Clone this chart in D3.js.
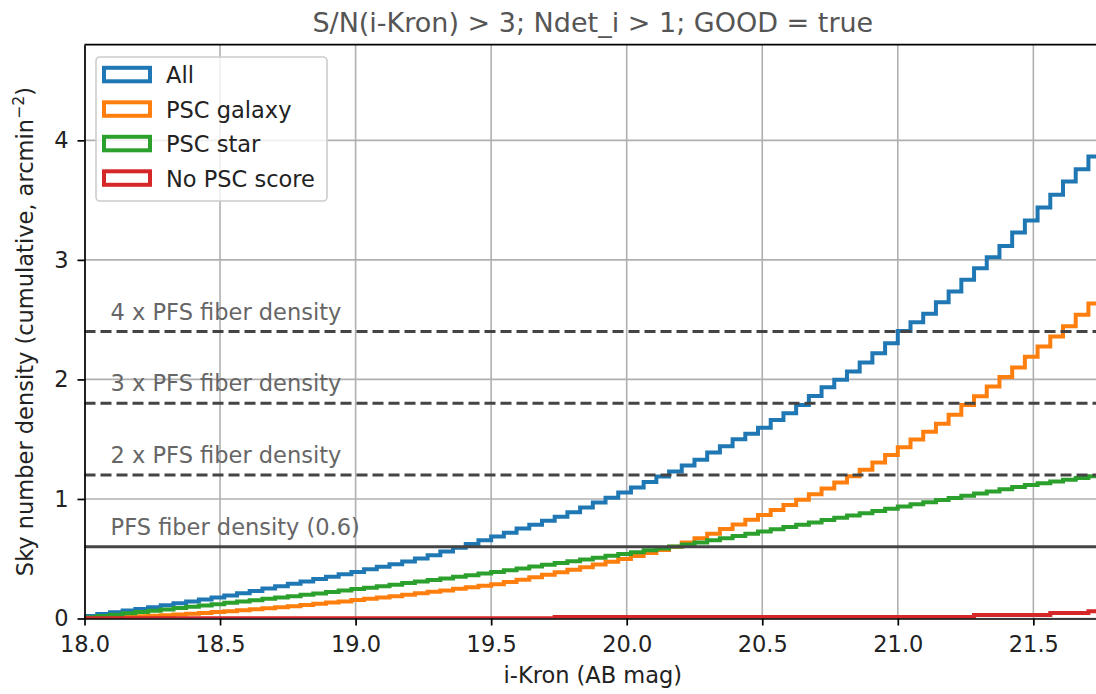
<!DOCTYPE html>
<html>
<head>
<meta charset="utf-8">
<script src="https://cdn.jsdelivr.net/npm/d3@7"></script>
<style>
  html, body { margin: 0; padding: 0; background: #fff; }
  svg { display: block; font-family: "DejaVu Sans", sans-serif; }
</style>
</head>
<body>
<svg id="chart" width="1096" height="694"></svg>
<script>
// ---- Data ----
const title = "S/N(i-Kron) > 3; Ndet_i > 1; GOOD = true";
const xLabel = "i-Kron (AB mag)";
const xTicks = [18.0, 18.5, 19.0, 19.5, 20.0, 20.5, 21.0, 21.5];
const yTicks = [0, 1, 2, 3, 4];
const binLo = 18.0, binHi = 21.75, nBins = 80;

const seriesNames = ["All", "PSC galaxy", "PSC star", "No PSC score"];
const seriesColors = ["#1f77b4", "#ff7f0e", "#2ca02c", "#d62728"];

const allVals = [
  0.020,0.037,0.052,0.066,0.080,0.095,0.110,0.127,0.143,0.159,
  0.175,0.192,0.211,0.230,0.250,0.270,0.290,0.310,0.330,0.350,
  0.370,0.390,0.411,0.432,0.453,0.476,0.502,0.530,0.560,0.592,
  0.624,0.655,0.686,0.718,0.752,0.784,0.817,0.852,0.889,0.928,
  0.970,1.011,1.054,1.096,1.142,1.188,1.229,1.280,1.328,1.388,
  1.440,1.500,1.545,1.595,1.661,1.717,1.787,1.862,1.935,1.998,
  2.066,2.141,2.219,2.303,2.406,2.478,2.550,2.646,2.735,2.833,
  2.930,3.022,3.117,3.229,3.329,3.438,3.544,3.655,3.759,3.865];

const galaxyVals = [
  0.003,0.006,0.010,0.014,0.018,0.023,0.028,0.034,0.040,0.047,
  0.054,0.061,0.069,0.077,0.085,0.094,0.103,0.113,0.123,0.133,
  0.143,0.154,0.165,0.176,0.187,0.199,0.211,0.223,0.235,0.248,
  0.261,0.274,0.287,0.306,0.325,0.345,0.365,0.386,0.407,0.429,
  0.452,0.475,0.498,0.523,0.548,0.574,0.600,0.635,0.672,0.710,
  0.748,0.787,0.826,0.866,0.908,0.950,0.994,1.040,1.088,1.138,
  1.190,1.245,1.305,1.368,1.432,1.497,1.562,1.630,1.705,1.785,
  1.860,1.940,2.020,2.100,2.190,2.275,2.360,2.445,2.540,2.635];

const starVals = [
  0.010,0.021,0.032,0.043,0.054,0.065,0.076,0.087,0.098,0.109,
  0.120,0.131,0.142,0.153,0.165,0.176,0.187,0.199,0.210,0.222,
  0.234,0.246,0.258,0.270,0.283,0.296,0.309,0.322,0.335,0.349,
  0.362,0.376,0.390,0.404,0.419,0.434,0.449,0.464,0.479,0.494,
  0.509,0.524,0.539,0.555,0.570,0.586,0.602,0.619,0.636,0.654,
  0.672,0.690,0.709,0.728,0.747,0.766,0.785,0.804,0.823,0.842,
  0.861,0.880,0.899,0.918,0.937,0.955,0.973,0.991,1.009,1.027,
  1.045,1.063,1.081,1.099,1.117,1.132,1.147,1.161,1.175,1.189];

const noScoreVals = [
  0.003,0.003,0.003,0.003,0.003,0.003,0.003,0.003,0.003,0.003,
  0.003,0.003,0.003,0.003,0.003,0.003,0.003,0.003,0.003,0.003,
  0.003,0.003,0.003,0.003,0.003,0.003,0.003,0.003,0.003,0.003,
  0.003,0.003,0.003,0.003,0.003,0.003,0.003,0.012,0.012,0.012,
  0.012,0.012,0.012,0.012,0.012,0.012,0.012,0.012,0.012,0.012,
  0.012,0.012,0.012,0.012,0.012,0.012,0.012,0.012,0.012,0.012,
  0.012,0.012,0.012,0.012,0.012,0.012,0.012,0.012,0.012,0.012,
  0.030,0.030,0.030,0.030,0.030,0.030,0.047,0.047,0.047,0.060];

const refLevels = [0.6, 1.2, 1.8, 2.4];
const refLabels = ["PFS fiber density (0.6)", "2 x PFS fiber density",
                   "3 x PFS fiber density", "4 x PFS fiber density"];
const refDashed = [false, true, true, true];

(function draw() {
  const svg = d3.select("#chart");
  const pL = 84.5, pB = 618.5, pT = 44.7;
  const x = d3.scaleLinear().domain([binLo, binHi]).range([pL, pL + 3.75 * 271.1]);
  const y = d3.scaleLinear().domain([0, 4.8]).range([pB, pT]);
  const pR = x(binHi);
  const FS = 22.5;

  svg.append("defs").append("clipPath").attr("id", "plotclip")
    .append("rect").attr("x", pL).attr("y", pT)
    .attr("width", pR - pL).attr("height", pB - pT);

  // grid
  const grid = svg.append("g").attr("clip-path", "url(#plotclip)");
  grid.selectAll("line.gx").data(xTicks).join("line").attr("class", "gx")
    .attr("x1", d => x(d)).attr("x2", d => x(d))
    .attr("y1", pT).attr("y2", pB)
    .attr("stroke", "#b0b0b0").attr("stroke-width", 1.6);
  grid.selectAll("line.gy").data(yTicks).join("line").attr("class", "gy")
    .attr("x1", pL).attr("x2", pR)
    .attr("y1", d => y(d)).attr("y2", d => y(d))
    .attr("stroke", "#b0b0b0").attr("stroke-width", 1.6);

  // histogram steps
  const edges = d3.range(nBins + 1).map(i => binLo + (binHi - binLo) * i / nBins);
  const seriesVals = [allVals, galaxyVals, starVals, noScoreVals];
  const line = d3.line().x(d => x(d[0])).y(d => y(d[1]));
  const plot = svg.append("g").attr("clip-path", "url(#plotclip)");
  seriesVals.forEach((vals, k) => {
    const path = [[edges[0], 0]];
    vals.forEach((v, i) => { path.push([edges[i], v]); path.push([edges[i + 1], v]); });
    path.push([edges[nBins], 0]);
    plot.append("path")
      .attr("d", line(path))
      .attr("fill", "none")
      .attr("stroke", seriesColors[k])
      .attr("stroke-width", 4)
      .attr("stroke-linejoin", "miter");
  });

  // reference lines
  const refs = svg.append("g").attr("clip-path", "url(#plotclip)");
  refLevels.forEach((lv, i) => {
    refs.append("line")
      .attr("x1", pL).attr("x2", pR)
      .attr("y1", y(lv)).attr("y2", y(lv))
      .attr("stroke", "#444").attr("stroke-width", 3)
      .attr("stroke-dasharray", refDashed[i] ? "11,5" : null);
    svg.append("text")
      .attr("x", x(18.1) - 1).attr("y", y(lv + 0.1))
      .attr("font-size", FS).attr("fill", "#666")
      .text(refLabels[i]);
  });

  // axes
  const xAxis = d3.axisBottom(x).tickValues(xTicks).tickFormat(d3.format(".1f"))
    .tickSize(7).tickSizeOuter(0).tickPadding(11);
  const gx = svg.append("g").attr("transform", `translate(0,${pB})`).call(xAxis);
  const yAxis = d3.axisLeft(y).tickValues(yTicks).tickFormat(d3.format("d"))
    .tickSize(7).tickSizeOuter(0).tickPadding(9);
  const gy = svg.append("g").attr("transform", `translate(${pL},0)`).call(yAxis);
  [gx, gy].forEach(g => {
    g.attr("font-family", "DejaVu Sans").attr("font-size", FS);
    g.selectAll(".tick line").attr("stroke", "#000").attr("stroke-width", 1.7);
    g.selectAll(".tick text").attr("fill", "#222");
    g.select(".domain").attr("stroke", "#000").attr("stroke-width", 1.7);
  });
  svg.append("line").attr("x1", pL).attr("x2", pR)
    .attr("y1", pT).attr("y2", pT).attr("stroke", "#000").attr("stroke-width", 1.7);

  // title and labels
  svg.append("text").attr("x", (pL + pR) / 2).attr("y", 31.5)
    .attr("text-anchor", "middle").attr("font-size", 27).attr("fill", "#555")
    .text(title);
  svg.append("text").attr("x", (pL + pR) / 2).attr("y", 683)
    .attr("text-anchor", "middle").attr("font-size", FS).attr("fill", "#222")
    .text(xLabel);
  const yl = svg.append("text")
    .attr("transform", `translate(33,${(pT + pB) / 2}) rotate(-90)`)
    .attr("text-anchor", "middle").attr("font-size", FS).attr("fill", "#222");
  yl.append("tspan").text("Sky number density (cumulative, arcmin");
  yl.append("tspan").attr("font-size", FS * 0.7).attr("dy", -9).text("\u22122");
  yl.append("tspan").attr("dy", 9).text(")");

  // legend
  const lg = svg.append("g");
  lg.append("rect").attr("x", 96).attr("y", 57).attr("width", 231).attr("height", 144)
    .attr("rx", 4).attr("fill", "#fff").attr("fill-opacity", 0.8)
    .attr("stroke", "#cccccc").attr("stroke-width", 1.6);
  seriesNames.forEach((name, i) => {
    const base = 83.3 + i * 34.5;
    lg.append("rect").attr("x", 104).attr("y", base - 15.5)
      .attr("width", 46).attr("height", 13.5)
      .attr("fill", "none").attr("stroke", seriesColors[i]).attr("stroke-width", 4);
    lg.append("text").attr("x", 166).attr("y", base)
      .attr("font-size", FS).attr("fill", "#222").text(name);
  });
})();
</script>
</body>
</html>
